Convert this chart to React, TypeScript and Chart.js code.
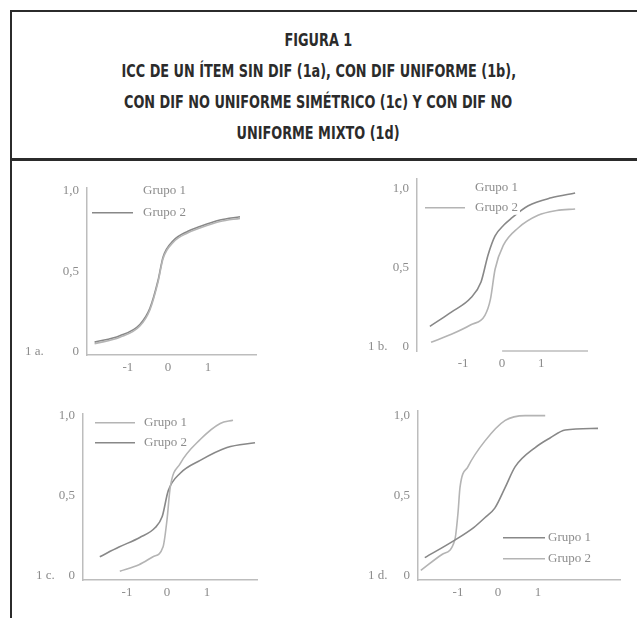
import React, { useEffect, useRef } from 'react';
import { Chart, registerables } from 'chart.js';
Chart.register(...registerables);

// ---- text ----
const TITLE_LINES = [
  'FIGURA 1',
  'ICC DE UN ÍTEM SIN DIF (1a), CON DIF UNIFORME (1b),',
  'CON DIF NO UNIFORME SIMÉTRICO (1c) Y CON DIF NO',
  'UNIFORME MIXTO (1d)',
];
const GROUP_LABELS = ['Grupo 1', 'Grupo 2'];
const X_TICKS = [-1, 0, 1];
const Y_TICKS = [0, 0.5, 1];
const Y_TICK_LABELS = ['0', '0,5', '1,0'];
const PANEL_LABELS = ['1 a.', '1 b.', '1 c.', '1 d.'];

// ---- data: panel 1a (sin DIF) ----
const aX = [-1.83, -1.2, -0.7, -0.45, -0.25, -0.12, 0.13, 0.5, 0.8, 1.3, 1.8];
const aG1 = [0.05, 0.09, 0.16, 0.26, 0.43, 0.58, 0.68, 0.74, 0.77, 0.81, 0.83];
const aG2 = [0.06, 0.1, 0.17, 0.27, 0.44, 0.59, 0.69, 0.75, 0.78, 0.82, 0.84];

// ---- panel 1b (DIF uniforme) ----
const bX1 = [-1.85, -1.3, -0.8, -0.54, -0.36, -0.18, 0.05, 0.23, 0.67, 1.26, 1.87];
const bG1 = [0.13, 0.22, 0.31, 0.41, 0.58, 0.7, 0.77, 0.81, 0.89, 0.94, 0.97];
const bX2 = [-1.82, -1.3, -0.8, -0.44, -0.3, -0.18, 0.03, 0.41, 0.92, 1.4, 1.87];
const bG2 = [0.03, 0.08, 0.14, 0.2, 0.3, 0.49, 0.64, 0.75, 0.83, 0.86, 0.87];

// ---- panel 1c (DIF no uniforme simétrico) ----
const cX1 = [-1.18, -0.7, -0.35, -0.1, 0, 0.08, 0.33, 0.83, 1.33, 1.65];
const cG1 = [0.03, 0.07, 0.12, 0.18, 0.35, 0.55, 0.7, 0.85, 0.95, 0.97];
const cX2 = [-1.68, -1.2, -0.68, -0.3, -0.12, 0.03, 0.33, 0.83, 1.5, 2.2];
const cG2 = [0.12, 0.18, 0.24, 0.3, 0.37, 0.53, 0.64, 0.72, 0.8, 0.83];

// ---- panel 1d (DIF no uniforme mixto) ----
const dX1 = [-1.83, -1.08, -0.6, -0.33, -0.08, 0.18, 0.43, 0.93, 1.3, 1.68, 2.5];
const dG1 = [0.11, 0.22, 0.3, 0.36, 0.42, 0.55, 0.68, 0.8, 0.86, 0.91, 0.92];
const dX2 = [-1.93, -1.4, -1.08, -1.0, -0.95, -0.75, -0.33, 0.18, 0.68, 1.18];
const dG2 = [0.03, 0.13, 0.22, 0.39, 0.55, 0.68, 0.84, 0.97, 1.0, 1.0];

// ---- styles ----
const SERIF = "'Liberation Serif', 'Times New Roman', serif";
const TEXT_GREY = '#8c8c8c';
const AXIS_GREY = '#bdbdbd';
const LIGHT = '#b4b4b4';
const DARK = '#888888';
const FRAME = '#2b2b2b';

const pts = (xs: number[], ys: number[]) => xs.map((x, i) => ({ x, y: ys[i] }));

type LegendItem = { text: string; tx: number; ty: number; line?: [number, number]; color: string };
type PanelDef = {
  label: string;
  area: { left: number; top: number; right: number; bottom: number };
  xRange: [number, number];
  yRange: [number, number];
  series: { data: { x: number; y: number }[]; color: string }[];
  legend: LegendItem[];
  labelDx: number;
  xAxisFrom?: number;
};

const M = { left: 75, top: 15, right: 15, bottom: 25 };

const PANELS: PanelDef[] = [
  {
    label: PANEL_LABELS[0],
    area: { left: 87, top: 187, right: 256, bottom: 355 },
    xRange: [-2.02, 2.2],
    yRange: [-0.02, 1.02],
    series: [
      { data: pts(aX, aG1), color: LIGHT },
      { data: pts(aX, aG2), color: DARK },
    ],
    legend: [
      { text: GROUP_LABELS[0], tx: 56, ty: 3, color: LIGHT },
      { text: GROUP_LABELS[1], tx: 56, ty: 25, line: [5, 46], color: DARK },
    ],
    labelDx: -62,
  },
  {
    label: PANEL_LABELS[1],
    area: { left: 417, top: 178, right: 588, bottom: 351 },
    xRange: [-2.18, 2.2],
    yRange: [-0.025, 1.06],
    series: [
      { data: pts(bX1, bG1), color: DARK },
      { data: pts(bX2, bG2), color: LIGHT },
    ],
    legend: [
      { text: GROUP_LABELS[0], tx: 58, ty: 9, color: DARK },
      { text: GROUP_LABELS[1], tx: 58, ty: 29, line: [8, 48], color: LIGHT },
    ],
    labelDx: -49,
    xAxisFrom: 0,
  },
  {
    label: PANEL_LABELS[2],
    area: { left: 83, top: 413, right: 257, bottom: 580 },
    xRange: [-2.1, 2.25],
    yRange: [-0.025, 1.01],
    series: [
      { data: pts(cX1, cG1), color: LIGHT },
      { data: pts(cX2, cG2), color: DARK },
    ],
    legend: [
      { text: GROUP_LABELS[0], tx: 61, ty: 9, line: [12, 52], color: LIGHT },
      { text: GROUP_LABELS[1], tx: 61, ty: 29, line: [12, 52], color: DARK },
    ],
    labelDx: -47,
  },
  {
    label: PANEL_LABELS[3],
    area: { left: 418, top: 410, right: 620, bottom: 580 },
    xRange: [-2.0, 3.05],
    yRange: [-0.03, 1.03],
    series: [
      { data: pts(dX1, dG1), color: DARK },
      { data: pts(dX2, dG2), color: LIGHT },
    ],
    legend: [
      { text: GROUP_LABELS[0], tx: 130, ty: 127, line: [85, 127], color: DARK },
      { text: GROUP_LABELS[1], tx: 130, ty: 148, line: [85, 127], color: LIGHT },
    ],
    labelDx: -50,
  },
];

const decoPlugin = {
  id: 'deco',
  afterDatasetsDraw(chart: any, _args: any, opts: any) {
    const { ctx, chartArea, scales } = chart;
    ctx.save();
    if (opts.xAxisFrom !== undefined && opts.xAxisFrom !== null) {
      ctx.strokeStyle = AXIS_GREY;
      ctx.lineWidth = 1.5;
      ctx.beginPath();
      ctx.moveTo(scales.x.getPixelForValue(opts.xAxisFrom), chartArea.bottom);
      ctx.lineTo(chartArea.right, chartArea.bottom);
      ctx.stroke();
    }
    ctx.font = `13px ${SERIF}`;
    ctx.textBaseline = 'middle';
    ctx.textAlign = 'left';
    (opts.legend as LegendItem[]).forEach((it) => {
      const y = chartArea.top + it.ty;
      const tx = chartArea.left + it.tx;
      const w = ctx.measureText(it.text).width;
      ctx.fillStyle = '#ffffff';
      ctx.fillRect(tx - 2, y - 7, w + 4, 14);
      if (it.line) {
        ctx.strokeStyle = it.color;
        ctx.lineWidth = 1.5;
        ctx.beginPath();
        ctx.moveTo(chartArea.left + it.line[0], y);
        ctx.lineTo(chartArea.left + it.line[1], y);
        ctx.stroke();
      }
      ctx.fillStyle = TEXT_GREY;
      ctx.fillText(it.text, tx, y);
    });
    ctx.fillStyle = TEXT_GREY;
    ctx.fillText(opts.label, chartArea.left + opts.labelDx, scales.y.getPixelForValue(0));
    ctx.restore();
  },
};

function Panel({ def }: { def: PanelDef }) {
  const ref = useRef<HTMLCanvasElement>(null);
  const left = def.area.left - M.left;
  const top = def.area.top - M.top;
  const width = def.area.right - def.area.left + M.left + M.right;
  const height = def.area.bottom - def.area.top + M.top + M.bottom;
  useEffect(() => {
    if (!ref.current) return;
    const chart = new Chart(ref.current, {
      type: 'line',
      data: {
        datasets: def.series.map((s, i) => ({
          label: GROUP_LABELS[i],
          data: s.data,
          borderColor: s.color,
          borderWidth: 1.6,
          pointRadius: 0,
          fill: false,
          cubicInterpolationMode: 'monotone' as const,
        })),
      },
      options: {
        responsive: false,
        animation: false,
        layout: { padding: { top: M.top, right: M.right, left: 0, bottom: 0 } },
        plugins: {
          legend: { display: false },
          tooltip: { enabled: false },
          deco: { legend: def.legend, label: def.label, labelDx: def.labelDx, xAxisFrom: def.xAxisFrom },
        } as any,
        scales: {
          x: {
            type: 'linear',
            min: def.xRange[0],
            max: def.xRange[1],
            grid: { display: false, drawTicks: false },
            border: { display: def.xAxisFrom === undefined, color: AXIS_GREY, width: 1.5 },
            ticks: { font: { family: SERIF, size: 13 }, color: TEXT_GREY, padding: 5, maxRotation: 0 },
            afterBuildTicks: (s: any) => {
              s.ticks = X_TICKS.map((v) => ({ value: v }));
            },
            afterFit: (s: any) => {
              s.height = M.bottom;
            },
          },
          y: {
            type: 'linear',
            min: def.yRange[0],
            max: def.yRange[1],
            grid: { display: false, drawTicks: false },
            border: { display: true, color: AXIS_GREY, width: 1.5 },
            ticks: {
              font: { family: SERIF, size: 13 },
              color: TEXT_GREY,
              padding: 8,
              callback: (v: any) => {
                const i = Y_TICKS.indexOf(Number(v));
                return i >= 0 ? Y_TICK_LABELS[i] : '';
              },
            },
            afterBuildTicks: (s: any) => {
              s.ticks = Y_TICKS.map((v) => ({ value: v }));
            },
            afterFit: (s: any) => {
              s.width = M.left;
            },
          },
        },
      },
      plugins: [decoPlugin],
    } as any);
    return () => chart.destroy();
  }, []);
  return (
    <canvas
      ref={ref}
      width={width}
      height={height}
      style={{ position: 'absolute', left, top, width, height }}
    />
  );
}

export default function App() {
  return (
    <div style={{ position: 'absolute', left: 0, top: 0, width: 637, height: 618, overflow: 'hidden', background: '#fff' }}>
      <div style={{ position: 'absolute', left: 10, top: 10, width: 2, height: 620, background: FRAME }} />
      <div style={{ position: 'absolute', left: 10, top: 10, width: 640, height: 2, background: FRAME }} />
      <div style={{ position: 'absolute', left: 10, top: 158, width: 640, height: 3, background: FRAME }} />
      <div
        style={{
          position: 'absolute',
          left: 10,
          top: 25,
          width: 617,
          textAlign: 'center',
          fontFamily: "'Liberation Sans Narrow', 'DejaVu Sans Condensed', 'Liberation Sans', sans-serif",
          fontWeight: 'bold',
          fontSize: 17,
          lineHeight: '31px',
          color: '#2b2b2b',
        }}
      >
        {TITLE_LINES.map((t, i) => (
          <div key={i}>
            <span style={{ display: 'inline-block', transform: 'scaleX(0.84)', transformOrigin: 'center', whiteSpace: 'nowrap' }}>
              {t}
            </span>
          </div>
        ))}
      </div>
      {PANELS.map((p, i) => (
        <Panel key={i} def={p} />
      ))}
    </div>
  );
}
